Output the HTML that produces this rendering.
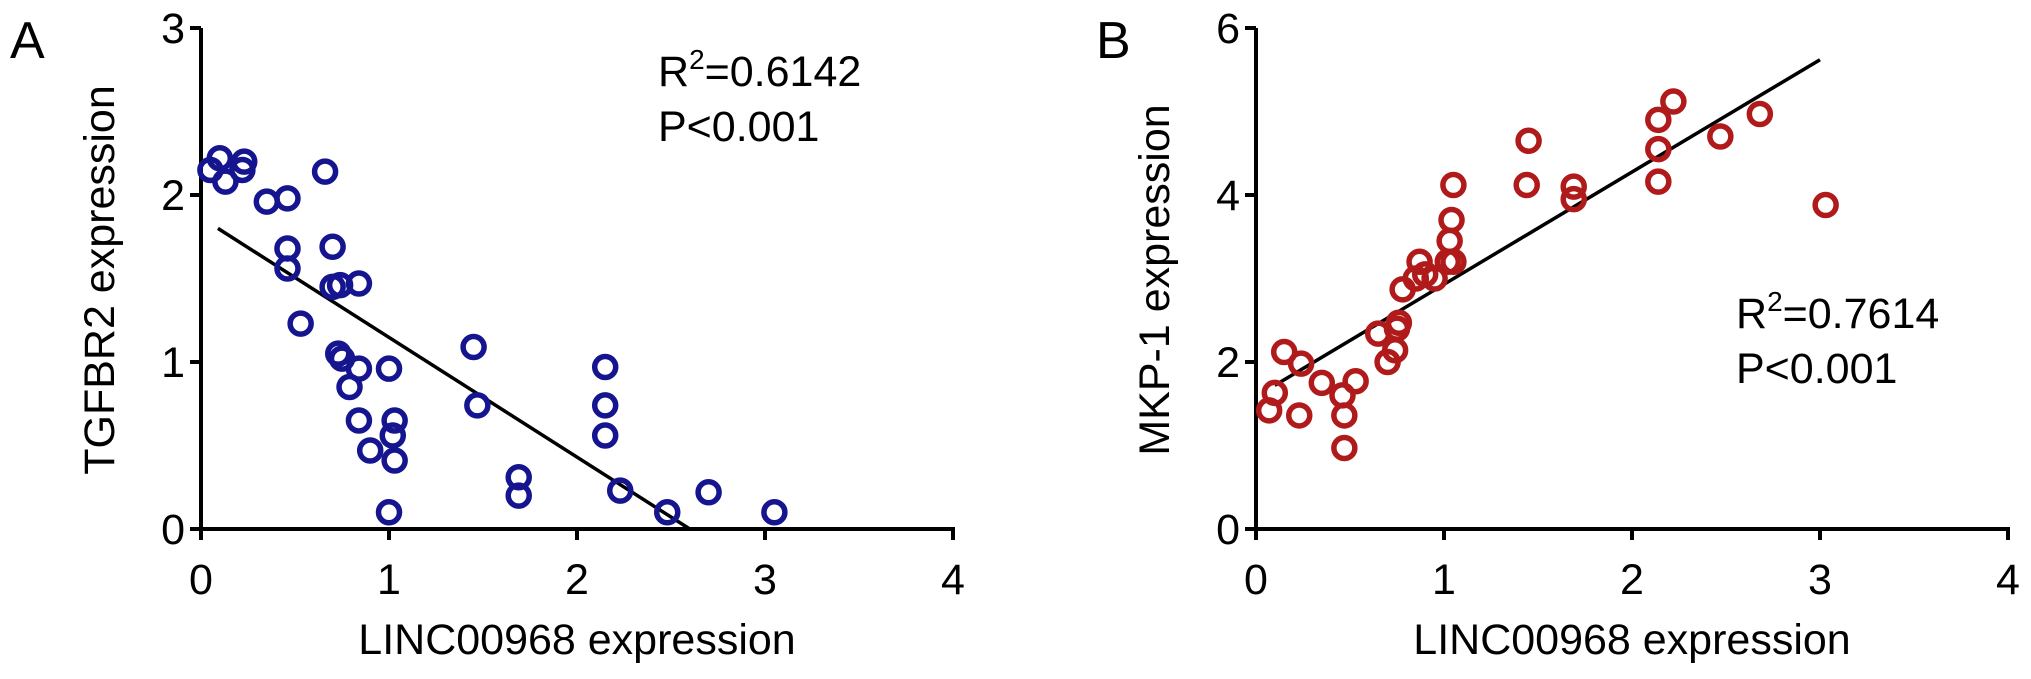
<!DOCTYPE html>
<html><head><meta charset="utf-8"><style>
body{margin:0;background:#fff;}
svg{display:block;font-family:"Liberation Sans",sans-serif;}
</style></head><body>
<svg id="chart" width="2031" height="679"></svg>
<script>
const xTicks=[0,1,2,3,4];
const yTicksA=[0,1,2,3];
const yTicksB=[0,2,4,6];
const ax=[0.05,0.1,0.13,0.22,0.23,0.35,0.46,0.46,0.46,0.53,0.66,0.7,0.7,0.74,0.84,0.73,0.75,0.79,0.84,0.84,0.9,1.0,1.03,1.02,1.03,1.0,1.45,1.47,1.69,1.69,2.15,2.15,2.15,2.23,2.48,2.7,3.05];
const ay=[2.15,2.22,2.08,2.15,2.2,1.96,1.98,1.68,1.56,1.23,2.14,1.69,1.45,1.46,1.47,1.05,1.02,0.85,0.96,0.65,0.47,0.96,0.65,0.56,0.41,0.1,1.09,0.74,0.31,0.2,0.97,0.74,0.56,0.23,0.1,0.22,0.1];
const aFitX=[0.09,2.6];
const aFitY=[1.8,0];
const bx=[0.07,0.1,0.15,0.24,0.23,0.35,0.46,0.47,0.47,0.53,0.65,0.7,0.74,0.75,0.76,0.78,0.85,0.87,0.9,0.95,1.02,1.03,1.04,1.05,1.05,1.44,1.45,1.69,1.69,2.14,2.14,2.14,2.22,2.47,2.68,3.03];
const by=[1.42,1.63,2.12,1.98,1.36,1.75,1.6,1.36,0.97,1.77,2.34,2.0,2.14,2.4,2.47,2.87,3.0,3.2,3.05,3.0,3.2,3.45,3.7,4.12,3.2,4.12,4.65,3.95,4.1,4.9,4.55,4.16,5.12,4.7,4.97,3.88];
const bFitX=[0.1,3.0];
const bFitY=[1.72,5.62];

const svg=document.getElementById('chart');
const NS='http://www.w3.org/2000/svg';
function mk(tag,attrs,parent){const e=document.createElementNS(NS,tag);for(const k in attrs)e.setAttribute(k,attrs[k]);(parent||svg).appendChild(e);return e;}

function panel(o){
  const g=mk('g',{});
  
  
  const sx=v=>o.x0+v/4*(o.x1-o.x0);
  const sy=v=>o.y0-v/o.ymax*(o.y0-o.y1);
  const axes=mk('g',{},g);
  
  
  mk('line',{x1:o.x0,y1:o.y0+2,x2:o.x0,y2:o.y1,stroke:'#000','stroke-width':4},axes);
  mk('line',{x1:o.x0,y1:o.y0,x2:o.x1+2,y2:o.y0,stroke:'#000','stroke-width':4},axes);
  xTicks.forEach(t=>{
    mk('line',{x1:sx(t),y1:o.y0,x2:sx(t),y2:o.y0+11,stroke:'#000','stroke-width':4},axes);
    const tx=mk('text',{x:sx(t),y:594,'font-size':43,'text-anchor':'middle'},axes);
    tx.textContent=t;
    
    
  });
  o.yt.forEach(t=>{
    mk('line',{x1:o.x0-11,y1:sy(t),x2:o.x0,y2:sy(t),stroke:'#000','stroke-width':4},axes);
    const tx=mk('text',{x:o.x0-16,y:sy(t)+15,'font-size':43,'text-anchor':'end'},axes);
    tx.textContent=t;
    
    
  });
  const xt=mk('text',{x:o.xtc,y:654,'font-size':43,'text-anchor':'middle'},g);
  xt.textContent='LINC00968 expression';
  
  
  const yt=mk('text',{x:0,y:0,'font-size':43,'text-anchor':'middle',transform:`translate(${o.ytx},${o.ytc}) rotate(-90)`},g);
  yt.textContent=o.ytitle;
  
  
  const pl=mk('text',{x:o.lx,y:58,'font-size':52},g);
  pl.textContent=o.label;
  
  
  const fit=mk('line',{x1:sx(o.fx[0]),y1:sy(o.fy[0]),x2:sx(o.fx[1]),y2:sy(o.fy[1]),stroke:'#000','stroke-width':3.5},g);
  
  
  o.xs.forEach((v,i)=>{
    const c=mk('circle',{cx:sx(v),cy:sy(o.ys[i]),r:10.5,fill:'none',stroke:o.color,'stroke-width':5.5},g);
    
    
  });
  const st=mk('text',{x:o.sx,y:o.sy,'font-size':43},g);
  
  
  st.innerHTML='R<tspan dy="-17" font-size="28">2</tspan><tspan dy="17">='+o.r2+'</tspan>';
  const pv=mk('text',{x:o.sx,y:o.sy+55,'font-size':43},g);
  pv.textContent='P<0.001';
  
  
}
panel({name:'panel-a',x0:201,x1:953,y0:529,y1:28,ymax:3,yt:yTicksA,xs:ax,ys:ay,fx:aFitX,fy:aFitY,color:'#15158f',ytitle:'TGFBR2 expression',ytx:114,ytc:280,xtc:577,label:'A',lx:10,r2:'0.6142',sx:658,sy:86});
panel({name:'panel-b',x0:1256,x1:2008,y0:529,y1:28,ymax:6,yt:yTicksB,xs:bx,ys:by,fx:bFitX,fy:bFitY,color:'#b01a1a',ytitle:'MKP-1 expression',ytx:1169,ytc:280,xtc:1632,label:'B',lx:1096,r2:'0.7614',sx:1736,sy:328});
</script>
</body></html>
